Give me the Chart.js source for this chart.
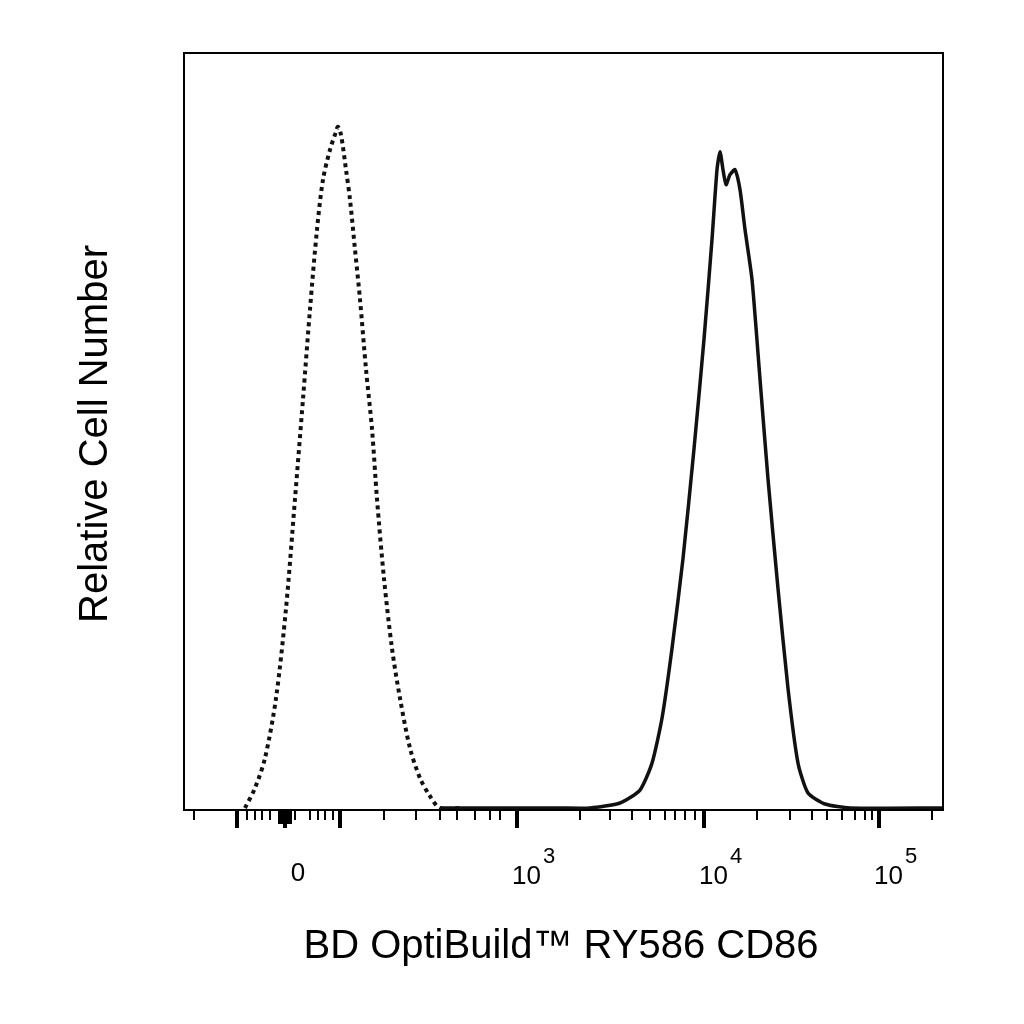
<!DOCTYPE html><html><head><style>html,body{margin:0;background:#fff}</style>
<script src="https://cdn.jsdelivr.net/npm/chart.js@4"></script></head><body>
<div style="width:1024px;height:1024px"><canvas id="c" width="1024" height="1024"></canvas></div>
<script>
// x in display channels (pixel-like biexponential channel), y = relative count
const isotypeX=[245,255,265,276,286,295,303,310,317,323,330,336,338,341,346,350,355,360,366,372,377,384,392,400,410,420,430,440,460];
const isotypeY=[0,20,50,110,200,310,410,500,580,630,660,678,683,675,640,610,560,510,440,380,310,230,160,110,60,30,12,0,0];
const cd86X=[440,500,560,590,620,640,652,662,672,683,694,704,712,717,720,723,726,730,735,740,745,752,760,768,778,788,798,808,825,850,943];
const cd86Y=[0,0,0,0,5,18,45,90,160,250,360,470,570,640,658,640,625,635,640,620,580,530,430,330,220,120,45,15,4,0,0];
const majorTicks=[237,285,340,517,704,879];
const minorTicks=[194,247,255,262,270,295,310,318,325,333,384,416,440,457,475,490,500,580,610,632,650,665,675,685,695,757,790,812,827,842,855,865,872,932];
const tickLabels=[{at:300,base:'0',exp:''},{at:517,base:'10',exp:'3'},{at:704,base:'10',exp:'4'},{at:879,base:'10',exp:'5'}];
const F='"Liberation Sans", Arial, sans-serif';
const deco={id:'deco',afterDraw(ch){
 const c=ch.ctx,a=ch.chartArea,x=ch.scales.x;
 c.save();c.strokeStyle='#000';c.lineWidth=2;c.strokeRect(a.left,a.top,a.right-a.left,a.bottom-a.top);
 c.lineWidth=2;
 minorTicks.forEach(v=>{const p=x.getPixelForValue(v);c.beginPath();c.moveTo(p,a.bottom);c.lineTo(p,a.bottom+10);c.stroke();});
 c.lineWidth=4;
 majorTicks.forEach(v=>{const p=x.getPixelForValue(v);c.beginPath();c.moveTo(p,a.bottom);c.lineTo(p,a.bottom+18);c.stroke();});
 c.fillRect(x.getPixelForValue(278),a.bottom,14,14);
 c.fillStyle='#000';c.textBaseline='alphabetic';
 tickLabels.forEach(t=>{c.font='26px '+F;c.textAlign='right';const p=x.getPixelForValue(t.at);
  if(!t.exp){c.textAlign='center';c.fillText(t.base,p-2,881);return;}
  c.fillText(t.base,p+24,884);c.font='22px '+F;c.textAlign='left';c.fillText(t.exp,p+26,863);});
 c.font='40px '+F;c.textAlign='center';c.fillText('BD OptiBuild™ RY586 CD86',561,958);
 c.translate(107,434);c.rotate(-Math.PI/2);c.fillText('Relative Cell Number',0,0);
 c.restore();}};
new Chart(document.getElementById('c'),{type:'line',
 data:{datasets:[
  {data:isotypeX.map((v,i)=>({x:v,y:isotypeY[i]})),borderColor:'#111',borderWidth:4,borderDash:[4,4],pointRadius:0,tension:0.3},
  {data:cd86X.map((v,i)=>({x:v,y:cd86Y[i]})),borderColor:'#111',borderWidth:3.5,pointRadius:0,tension:0.2}]},
 options:{responsive:false,animation:false,devicePixelRatio:1,
  layout:{padding:{left:184,right:81,top:53,bottom:214}},
  plugins:{legend:{display:false},tooltip:{enabled:false}},
  scales:{x:{type:'linear',min:184,max:943,display:false},y:{min:-2,max:757,display:false}}},
 plugins:[deco]});
</script></body></html>
